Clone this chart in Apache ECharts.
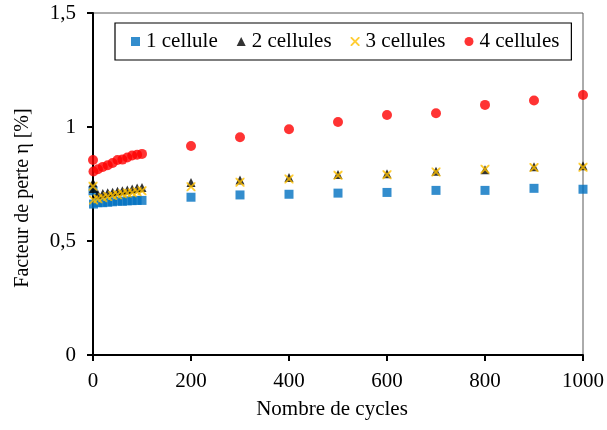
<!DOCTYPE html>
<html>
<head>
<meta charset="utf-8">
<script src="https://cdn.jsdelivr.net/npm/echarts@6/dist/echarts.min.js"></script>
<style>
html, body { margin: 0; padding: 0; background: #fff; }
#chart { width: 607px; height: 430px; }
</style>
</head>
<body>
<div id="chart"></div>
<script>
// nombre de cycles
var cycles = [0, 1, 10, 20, 30, 40, 50, 60, 70, 80, 90, 100, 200, 300, 400, 500, 600, 700, 800, 900, 1000];
// facteur de perte par configuration
var cell1 = [0.72, 0.662, 0.668, 0.668, 0.670, 0.672, 0.675, 0.674, 0.676, 0.677, 0.678, 0.678, 0.692, 0.702, 0.705, 0.710, 0.713, 0.722, 0.722, 0.731, 0.727];
var cell2 = [0.755, 0.73, 0.705, 0.708, 0.712, 0.714, 0.718, 0.720, 0.724, 0.728, 0.732, 0.735, 0.757, 0.768, 0.778, 0.792, 0.795, 0.806, 0.812, 0.826, 0.830];
var cell3 = [0.74, 0.68, 0.685, 0.690, 0.695, 0.700, 0.703, 0.707, 0.710, 0.712, 0.716, 0.720, 0.738, 0.758, 0.772, 0.788, 0.791, 0.803, 0.815, 0.822, 0.823];
var cell4 = [0.855, 0.805, 0.815, 0.825, 0.832, 0.842, 0.855, 0.857, 0.866, 0.875, 0.878, 0.882, 0.917, 0.955, 0.990, 1.022, 1.053, 1.060, 1.097, 1.116, 1.140];
var seriesNames = ['1 cellule', '2 cellules', '3 cellules', '4 cellules'];
var yTicks = [0, 0.5, 1, 1.5];

var font = "'Liberation Serif', 'Times New Roman', serif";
// symboles en path pour garder les proportions dans la légende
var squarePath = 'path://M0,0 L10,0 L10,10 L0,10 Z';
var trianglePath = 'path://M5,0 L10,10 L0,10 Z';
var crossPath = 'path://M0,0 L3,0 L10,7 L17,0 L20,0 L20,3 L13,10 L20,17 L20,20 L17,20 L10,13 L3,20 L0,20 L0,17 L7,10 L0,3 Z';
var circlePath = 'path://M5,0 A5,5,0,1,1,5,10 A5,5,0,1,1,5,0 Z';

function pairs(ys){
	var out = [];
	for(var i = 0; i < cycles.length; i++){
		out.push([cycles[i], ys[i]]);
	}
	return out;
}

function makeSeries(name, ys, symbol, size, color){
	return {
		name: name,
		type: 'scatter',
		symbol: symbol,
		symbolSize: size,
		itemStyle: { color: color },
		emphasis: { disabled: true },
		data: pairs(ys)
	};
}

var chart = echarts.init(document.getElementById('chart'));
var option = {
	animation: false,
	grid: {
		left: 93,
		right: 20,
		top: 13,
		bottom: 75,
		show: true,
		borderColor: '#595959',
		borderWidth: 1
	},
	legend: {
		left: 115,
		top: 23,
		padding: [8, 12, 8, 16],
		itemGap: 19,
		itemWidth: 11,
		itemHeight: 9,
		symbolKeepAspect: true,
		borderColor: '#000',
		borderWidth: 1.2,
		backgroundColor: '#fff',
		selectedMode: false,
		textStyle: { fontFamily: font, fontSize: 21, color: '#000' },
		data: [
			{ name: seriesNames[0], icon: squarePath },
			{ name: seriesNames[1], icon: trianglePath },
			{ name: seriesNames[2], icon: crossPath },
			{ name: seriesNames[3], icon: circlePath }
		]
	},
	xAxis: {
		type: 'value',
		min: 0,
		max: 1000,
		interval: 200,
		name: 'Nombre de cycles',
		nameLocation: 'middle',
		nameGap: 44,
		nameTextStyle: { fontFamily: font, fontSize: 21, color: '#000', padding: [0, 12, 0, 0] },
		axisLine: { lineStyle: { color: '#000', width: 2 } },
		axisTick: { inside: false, length: 6, lineStyle: { color: '#000', width: 2 } },
		axisLabel: {
			fontFamily: font, fontSize: 21, color: '#000', margin: 16,
			formatter: function(v){ return String(v); }
		},
		splitLine: { show: false }
	},
	yAxis: {
		type: 'value',
		min: yTicks[0],
		max: yTicks[yTicks.length - 1],
		interval: 0.5,
		name: 'Facteur de perte η [%]',
		nameLocation: 'middle',
		nameGap: 60,
		nameTextStyle: { fontFamily: font, fontSize: 20, color: '#000', padding: [0, 28, 0, 0] },
		axisLine: { show: true, lineStyle: { color: '#000', width: 2 } },
		axisTick: { show: true, inside: false, length: 6, lineStyle: { color: '#000', width: 2 } },
		axisLabel: {
			fontFamily: font, fontSize: 21, color: '#000', margin: 17,
			formatter: function(v){ return String(v).replace('.', ','); }
		},
		splitLine: { show: false }
	},
	series: [
		makeSeries(seriesNames[0], cell1, squarePath, 9, '#0070C0'),
		makeSeries(seriesNames[1], cell2, trianglePath, 9, '#000000'),
		makeSeries(seriesNames[2], cell3, crossPath, 9, '#FFC000'),
		makeSeries(seriesNames[3], cell4, circlePath, 10, '#FF0000')
	]
};
chart.setOption(option);
</script>
</body>
</html>
